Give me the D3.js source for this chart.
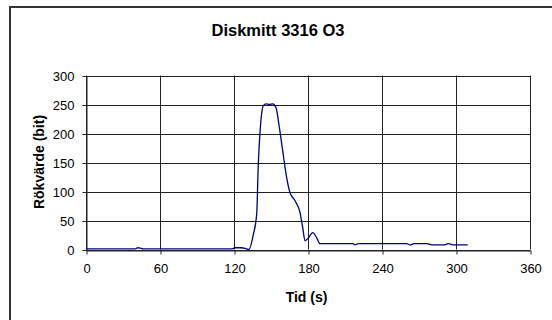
<!DOCTYPE html>
<html><head><meta charset="utf-8">
<script src="https://cdn.jsdelivr.net/npm/d3@7"></script>
<style>body{margin:0;background:#fff}svg{display:block}text{font-family:"Liberation Sans",Arial,sans-serif}</style>
</head><body><svg id="c" width="552" height="320"></svg>
<script>
const title = "Diskmitt 3316 O3";
const xLabel = "Tid (s)";
const yLabel = "Rökvärde (bit)";
const xTicks = [0, 60, 120, 180, 240, 300, 360];
const yTicks = [0, 50, 100, 150, 200, 250, 300];
const times = [0, 10, 20, 30, 40, 42, 44, 46, 60, 80, 100, 118, 121, 126, 129, 132, 135.7, 138.4, 139.7, 141.1, 143.8, 146, 148.7, 151.4, 154, 156.8, 159.5, 162.7, 165.4, 169.5, 173.5, 175.7, 177.6, 180.3, 183.8, 187.1, 189.7, 200, 216.7, 217.8, 221, 240, 260, 262.7, 266, 276.8, 280.8, 290, 294, 298, 309.5];
const values = [1, 1, 1, 1, 1, 3, 2.5, 1, 1, 1, 1, 1, 3, 3, 2, 0, 26, 61, 147, 202, 248, 251, 250, 251, 245, 210, 170, 124, 98, 84, 64, 38, 15, 20, 29, 20, 10, 10, 10, 8, 10, 10, 10, 8, 10, 10, 8, 8, 10, 8, 8];

const svg = d3.select("#c");
const m = {l: 86, r: 530, t: 75.5, b: 249.5};
const x = d3.scaleLinear().domain([0, 360]).range([m.l, m.r]);
const y = d3.scaleLinear().domain([0, 300]).range([m.b, m.t]);

// outer frame
svg.append("path").attr("d", "M10,330 V7 H560").attr("fill", "none").attr("stroke", "#333").attr("stroke-width", 2);

svg.append("text").attr("x", 278).attr("y", 36).attr("text-anchor", "middle")
  .attr("font-size", 16.5).attr("font-weight", "bold").text(title);

// grid
const g = svg.append("g");
g.selectAll(".hg").data(yTicks).join("line")
  .attr("x1", m.l).attr("x2", m.r)
  .attr("y1", d => Math.round(y(d)) + 0.5).attr("y2", d => Math.round(y(d)) + 0.5)
  .attr("stroke", "#222").attr("stroke-width", 1);
g.selectAll(".vg").data(xTicks).join("line")
  .attr("y1", m.t).attr("y2", m.b)
  .attr("x1", d => Math.round(x(d)) + 0.5).attr("x2", d => Math.round(x(d)) + 0.5)
  .attr("stroke", "#222").attr("stroke-width", 1);

// axes
const xa = svg.append("g").attr("transform", `translate(0.5,${Math.round(m.b) + 0.5})`)
  .call(d3.axisBottom(x).tickValues(xTicks).tickSize(4).tickSizeOuter(0).tickPadding(9));
const ya = svg.append("g").attr("transform", `translate(${Math.round(m.l) + 0.5},0.5)`)
  .call(d3.axisLeft(y).tickValues(yTicks).tickSize(4).tickSizeOuter(0).tickPadding(8));
[xa, ya].forEach(a => {
  a.select(".domain").attr("stroke", "#222");
  a.selectAll(".tick line").attr("stroke", "#222");
  a.selectAll(".tick text").attr("font-size", 13).attr("fill", "#000")
    .attr("font-family", '"Liberation Sans",Arial,sans-serif');
});
ya.selectAll(".tick text").attr("dy", "0.35em");

// line
const pts = times.map((t, i) => [t, values[i]]);
svg.append("path").datum(pts)
  .attr("fill", "none").attr("stroke", "#000080").attr("stroke-width", 1.3)
  .attr("d", d3.line().x(d => x(d[0])).y(d => y(d[1])).curve(d3.curveMonotoneX));

svg.append("text").attr("x", 306.5).attr("y", 302).attr("text-anchor", "middle")
  .attr("font-size", 14).attr("font-weight", "bold").text(xLabel);
svg.append("text").attr("transform", "translate(44,162) rotate(-90)").attr("text-anchor", "middle")
  .attr("font-size", 14).attr("font-weight", "bold").text(yLabel);
</script></body></html>
